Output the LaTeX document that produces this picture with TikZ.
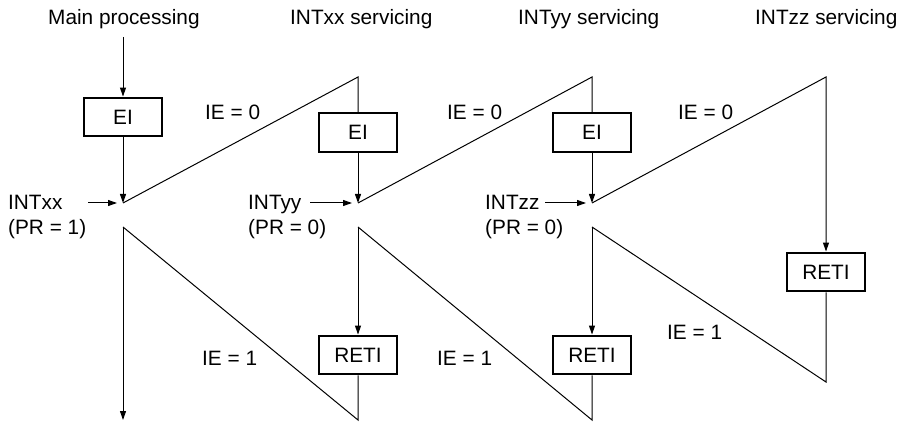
\documentclass[tikz,border=0pt]{standalone}
\usepackage{fontspec}
\setmainfont{Liberation Sans}
\usetikzlibrary{arrows.meta}
\begin{document}
\begin{tikzpicture}[x=1pt,y=-1pt,
  font=\fontsize{20.8}{24}\selectfont,
  box/.style={draw, line width=2.4pt, minimum width=77.5pt, minimum height=38.5pt, inner sep=0pt},
  ln/.style={line width=1pt},
  arr/.style={ln, -{Triangle[length=9pt,width=6pt]}},
  lbl/.style={inner sep=0pt, anchor=base west}]
\useasboundingbox (0,0) rectangle (902,422);
% titles
\node[lbl] (t1) at (48,25) {Main processing};
\node[lbl] (t2) at (290,25) {INTxx servicing};
\node[lbl] (t3) at (518,25) {INTyy servicing};
\node[lbl] (t4) at (755,25) {INTzz servicing};
% boxes
\node[box] (ei1) at (123,117) {EI};
\node[box] (ei2) at (358,132.5) {EI};
\node[box] (ei3) at (592,132.5) {EI};
\node[box] (re2) at (358,355) {RETI};
\node[box] (re3) at (592,355) {RETI};
\node[box] (re4) at (826,272) {RETI};
% coordinates
\coordinate (st1) at (123,37);
\coordinate (j1) at (123,203);
\coordinate (j2) at (358,203);
\coordinate (j3) at (592,203);
\coordinate (top2) at (358,77);
\coordinate (top3) at (592,77);
\coordinate (top4) at (826,77);
\coordinate (s1) at (123,227);
\coordinate (s2) at (358,227);
\coordinate (s3) at (592,227);
\coordinate (b1) at (123,420);
\coordinate (b2) at (358,420);
\coordinate (b3) at (592,420);
\coordinate (b4) at (826,382);
\coordinate (ia1) at (88,203);
\coordinate (ib1) at (117,203);
\coordinate (ia2) at (310,203);
\coordinate (ib2) at (352,203);
\coordinate (ia3) at (545,203);
\coordinate (ib3) at (586,203);
% flow
\draw[arr] (st1) -- (ei1);
\draw[arr] (ei1) -- (j1);
\draw[ln] (j1) -- (top2) -- (ei2);
\draw[arr] (ei2) -- (j2);
\draw[ln] (j2) -- (top3) -- (ei3);
\draw[arr] (ei3) -- (j3);
\draw[arr] (j3) -- (top4) -- (re4);
\draw[ln] (re4) -- (b4) -- (s3);
\draw[arr] (s3) -- (re3);
\draw[ln] (re3) -- (b3) -- (s2);
\draw[arr] (s2) -- (re2);
\draw[ln] (re2) -- (b2) -- (s1);
\draw[arr] (s1) -- (b1);
% interrupt requests
\draw[arr] (ia1) -- (ib1);
\draw[arr] (ia2) -- (ib2);
\draw[arr] (ia3) -- (ib3);
\node[lbl] (i1) at (8,210) {INTxx};
\node[lbl] (p1) at (8,235) {(PR = 1)};
\node[lbl] (i2) at (248,210) {INTyy};
\node[lbl] (p2) at (248,235) {(PR = 0)};
\node[lbl] (i3) at (485,210) {INTzz};
\node[lbl] (p3) at (485,235) {(PR = 0)};
% IE labels
\node[lbl] (ie01) at (205,120) {IE = 0};
\node[lbl] (ie02) at (447,120) {IE = 0};
\node[lbl] (ie03) at (678,120) {IE = 0};
\node[lbl] (ie11) at (202,365) {IE = 1};
\node[lbl] (ie12) at (437,365) {IE = 1};
\node[lbl] (ie13) at (667,339) {IE = 1};
\end{tikzpicture}
\end{document}
